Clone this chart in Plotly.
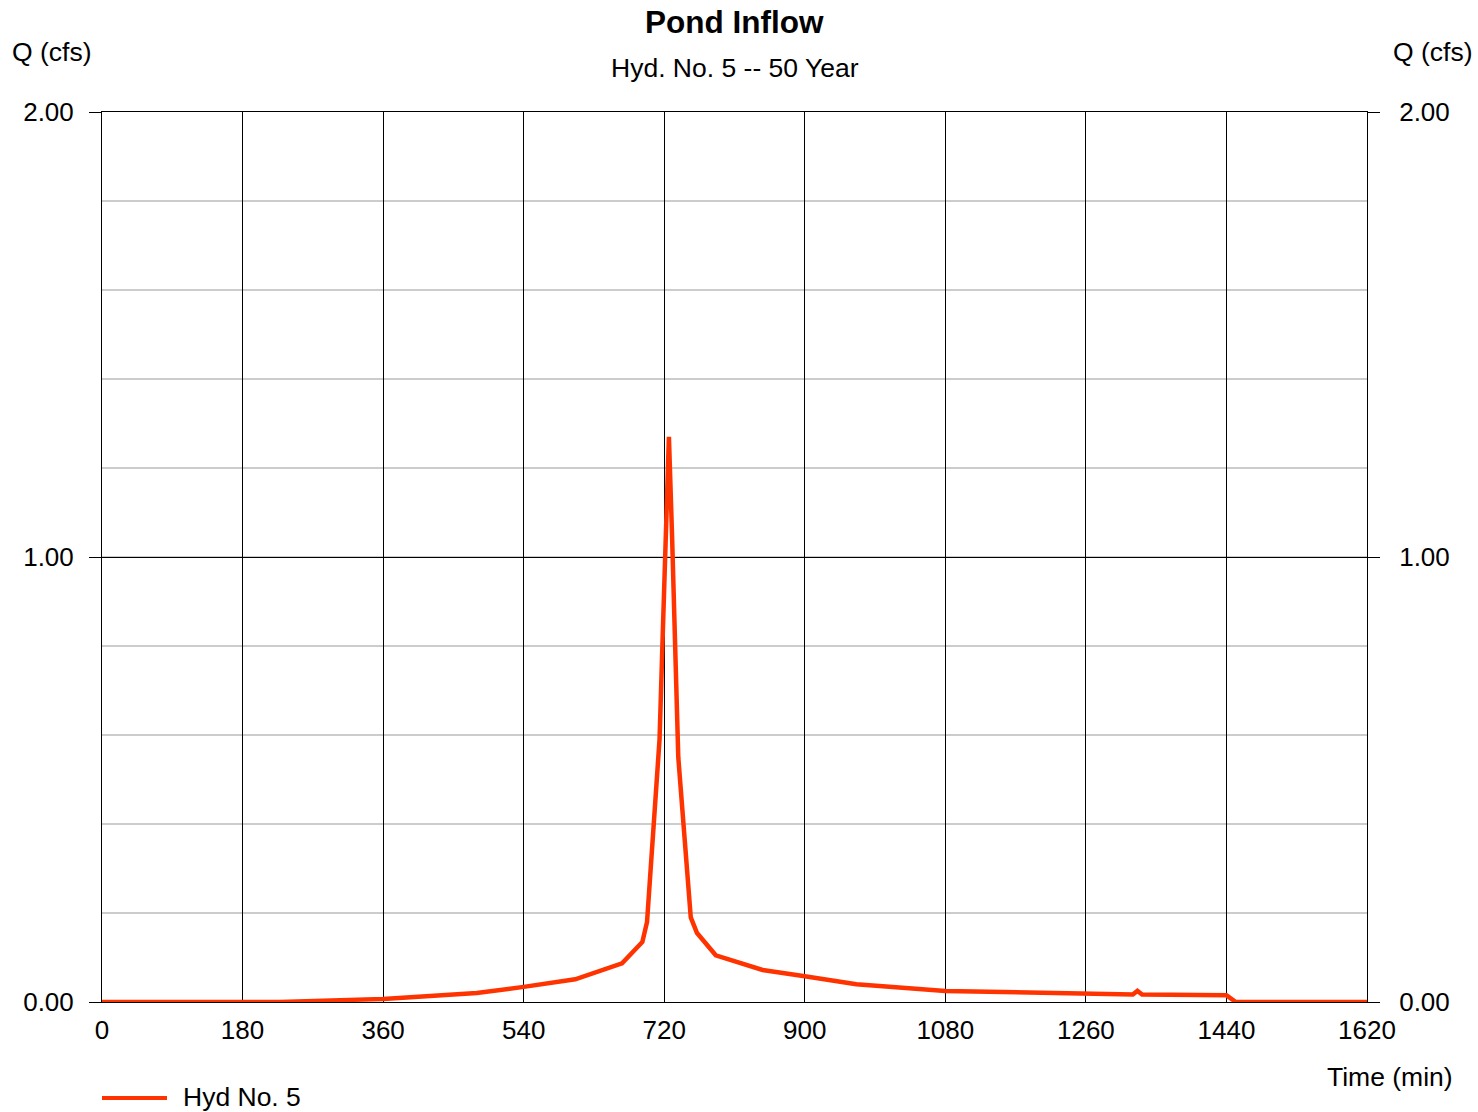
import plotly.graph_objects as go

# Hydrograph: time (min) and flow Q (cfs)
time_min = [0, 228, 360, 480, 540, 606, 666, 692, 698, 706, 714, 718, 723, 726,
            730, 734, 738, 754, 762, 786, 846, 900, 966, 1080, 1320, 1326, 1332,
            1440, 1452, 1620]
flow_cfs = [0.0, 0.0, 0.007, 0.020, 0.034, 0.051, 0.087, 0.135, 0.180, 0.390,
            0.590, 0.820, 1.130, 1.270, 1.050, 0.790, 0.550, 0.190, 0.155, 0.105,
            0.072, 0.058, 0.040, 0.025, 0.017, 0.025, 0.017, 0.015, 0.0, 0.0]

x_ticks = [0, 180, 360, 540, 720, 900, 1080, 1260, 1440, 1620]
y_ticks = [0.0, 1.0, 2.0]
series_name = "Hyd No. 5"
title_text = "Pond Inflow"
subtitle_text = "Hyd. No. 5 -- 50 Year"

FONT = "Liberation Sans, Arial, sans-serif"
LINE_COLOR = "#FF3300"

W, H = 1478, 1112
PX0, PX1 = 102, 1367   # plot area in page pixels
PY0, PY1 = 112, 1002
L = PX0
T = PY0
PW, PH = PX1 - PX0, PY1 - PY0
R = W - L - PW
B = H - T - PH

def px(xpix):
    return (xpix - PX0) / PW

def py(ypix):
    return (PY1 - ypix) / PH

fig = go.Figure()
fig.add_trace(go.Scatter(x=time_min, y=flow_cfs, mode="lines", name=series_name,
                         line=dict(color=LINE_COLOR, width=4.5), showlegend=False))
fig.add_trace(go.Scatter(x=time_min, y=flow_cfs, mode="lines", yaxis="y2",
                         line=dict(color="rgba(0,0,0,0)", width=0),
                         showlegend=False, hoverinfo="skip"))

axis_font = dict(family=FONT, size=26, color="black")
text_font = dict(family=FONT, size=26.5, color="black")

fig.update_layout(
    width=W, height=H,
    margin=dict(l=L, r=R, t=T, b=B, pad=0),
    paper_bgcolor="white", plot_bgcolor="white",
    font=dict(family=FONT, size=26, color="black"),
    xaxis=dict(range=[0, 1620], tickvals=x_ticks, ticktext=[str(v) for v in x_ticks],
               showgrid=True, gridcolor="black", gridwidth=1,
               zeroline=False, showline=True, linecolor="black", linewidth=1,
               mirror=True, ticks="", tickfont=axis_font, ticklabelstandoff=5),
    yaxis=dict(range=[0, 2], tickvals=y_ticks, tickformat=".2f",
               showgrid=True, gridcolor="black", gridwidth=1,
               minor=dict(dtick=0.2, showgrid=True, gridcolor="#cccccc", gridwidth=2),
               zeroline=False, showline=True, linecolor="black", linewidth=1,
               ticks="outside", ticklen=12, tickcolor="black", tickwidth=1,
               tickfont=axis_font, ticklabelstandoff=10),
    yaxis2=dict(range=[0, 2], tickvals=y_ticks, tickformat=".2f", overlaying="y",
                side="right", showgrid=False, zeroline=False, showline=True,
                linecolor="black", linewidth=1,
                ticks="outside", ticklen=12, tickcolor="black", tickwidth=1,
                tickfont=axis_font, ticklabelstandoff=14),
    showlegend=False,
)

annotations = [
    dict(text="<b>" + title_text + "</b>", x=0.5, y=py(22), xanchor="center",
         yanchor="middle", font=dict(family=FONT, size=31.5, color="black")),
    dict(text=subtitle_text, x=0.5, y=py(68), xanchor="center", yanchor="middle",
         font=text_font),
    dict(text="Q (cfs)", x=px(10), y=py(52), xanchor="left", yanchor="middle",
         font=text_font),
    dict(text="Q (cfs)", x=px(1475), y=py(52), xanchor="right", yanchor="middle",
         font=text_font),
    dict(text="Time (min)", x=px(1455), y=py(1077), xanchor="right", yanchor="middle",
         font=text_font),
    dict(text=series_name, x=px(181), y=py(1097), xanchor="left", yanchor="middle",
         font=text_font),
]
for a in annotations:
    a.update(xref="paper", yref="paper", showarrow=False)
fig.update_layout(annotations=annotations)

# legend sample line
fig.add_shape(type="line", xref="paper", yref="paper", x0=px(102), x1=px(167),
              y0=py(1098), y1=py(1098), line=dict(color=LINE_COLOR, width=4))

fig.write_html("out.html", config={"displayModeBar": False},
               post_script="document.body.style.margin='0';document.body.style.overflow='hidden';")
